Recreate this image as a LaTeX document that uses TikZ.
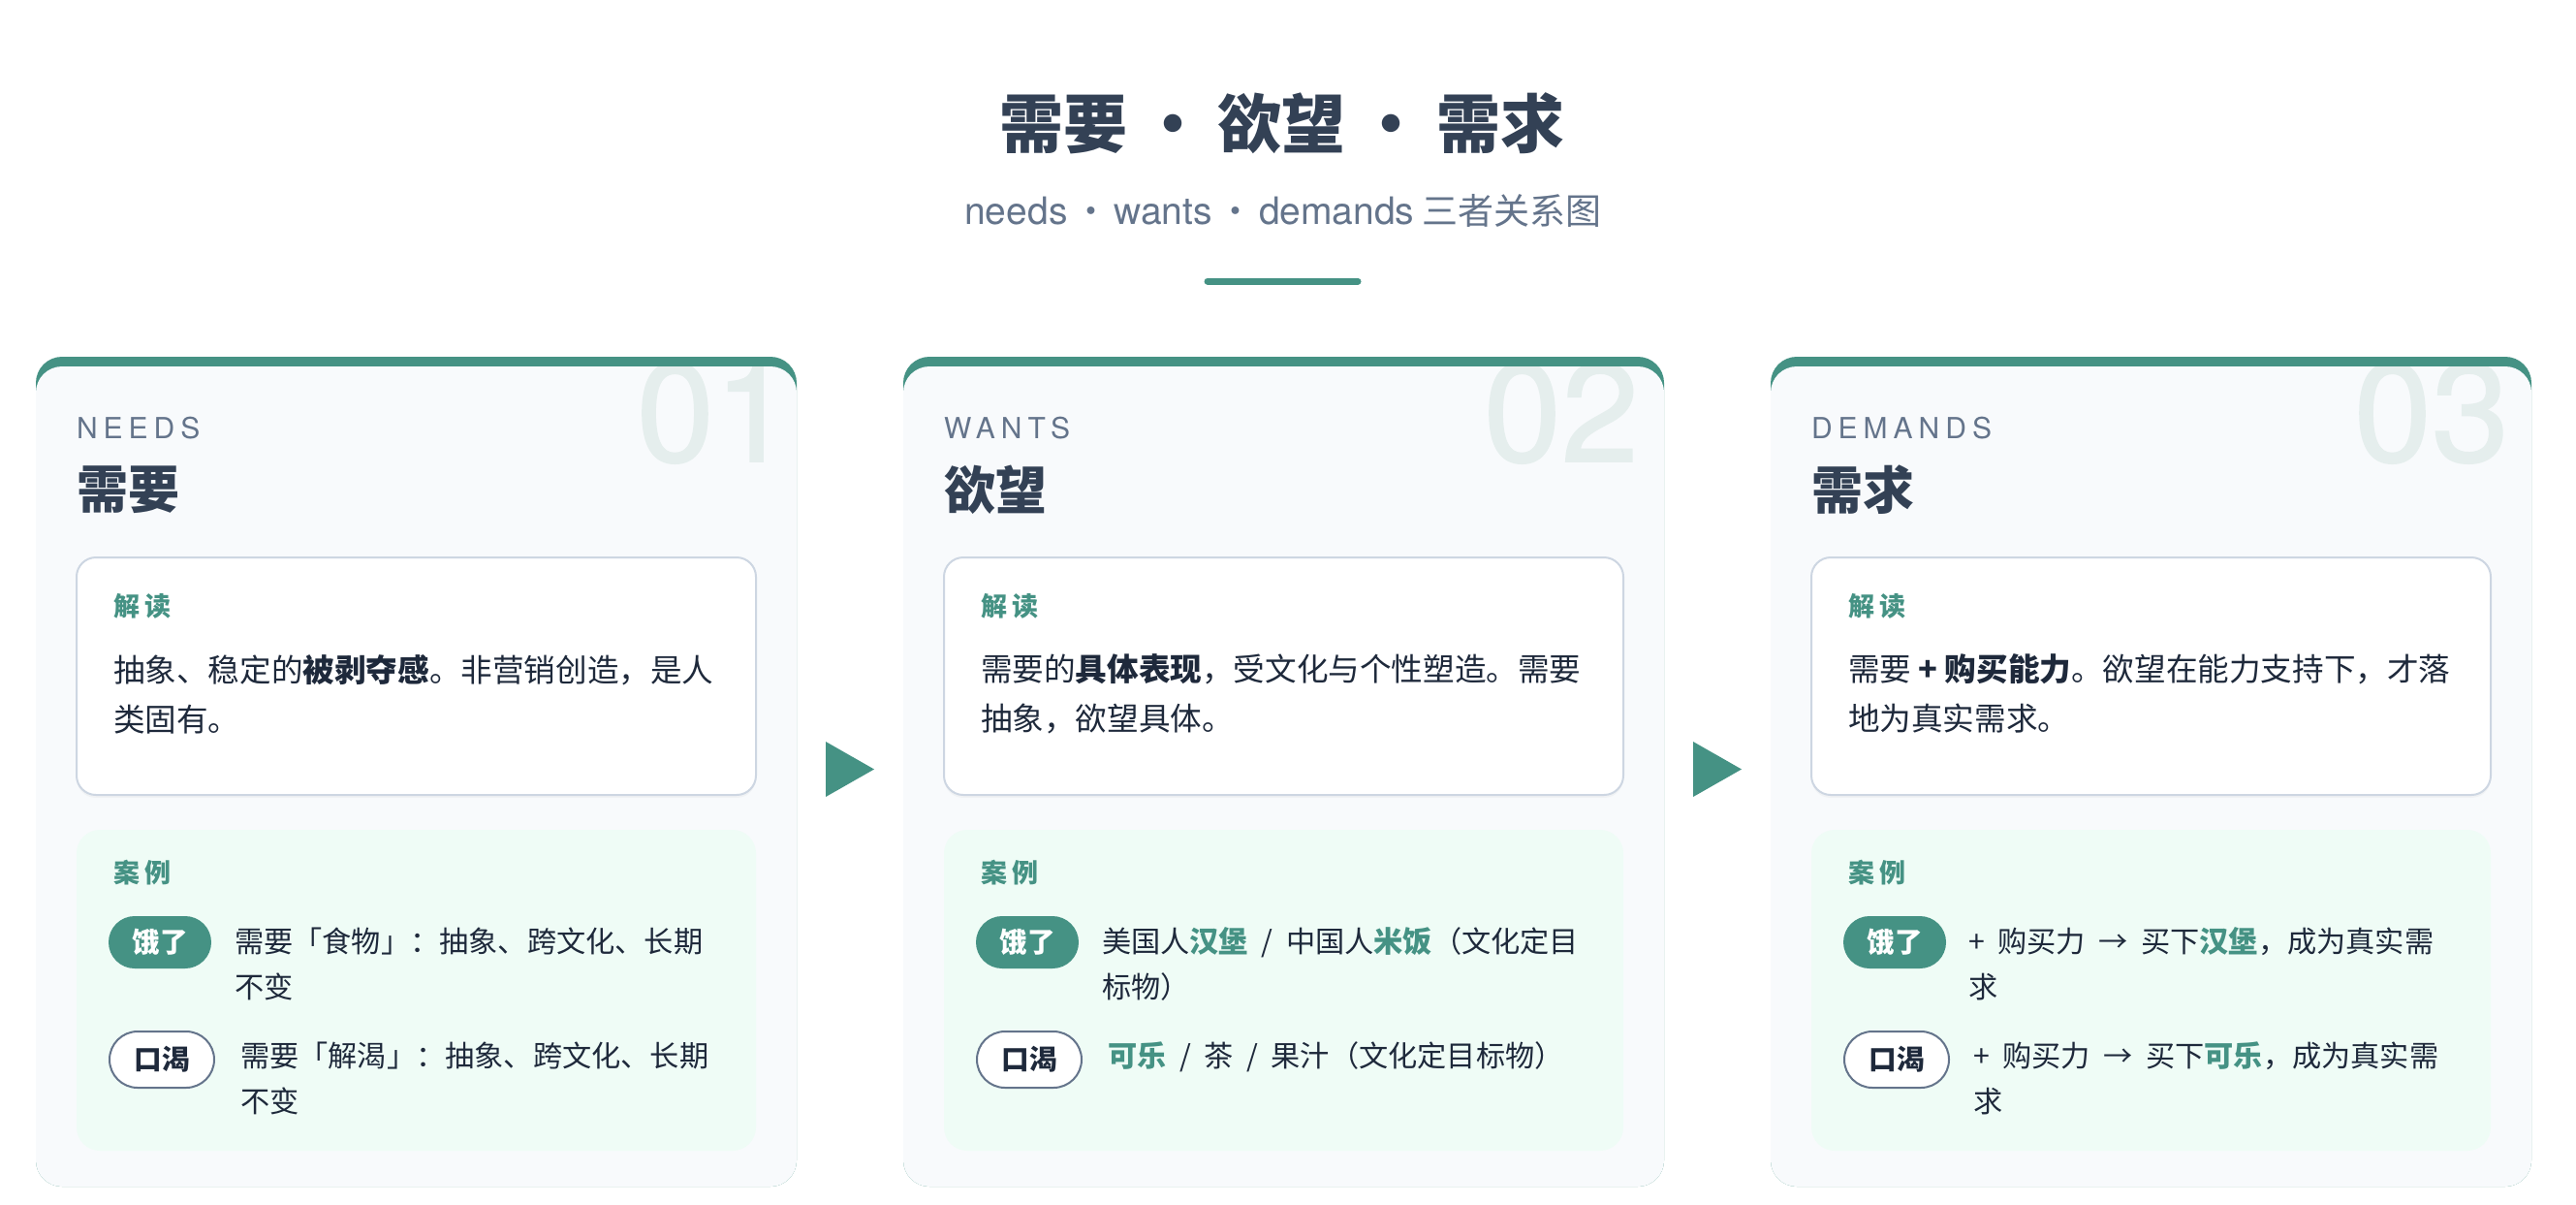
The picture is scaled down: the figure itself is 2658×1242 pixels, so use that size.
\documentclass[tikz,border=0pt]{standalone}
\usepackage{fontspec}
\setmainfont{Noto Sans CJK SC}
\newfontfamily\latinfont{TeX Gyre Heros}
\usepackage{xcolor}
\usepackage{tikz}
\usetikzlibrary{positioning, calc, shadows}
\definecolor{ndGreen}{RGB}{69, 146, 132}
\definecolor{ndDark}{RGB}{51, 65, 85}
\definecolor{ndText}{RGB}{30, 41, 59}
\definecolor{ndGray}{RGB}{100, 116, 139}
\definecolor{ndCard}{RGB}{248, 250, 252}
\definecolor{ndMint}{RGB}{239, 252, 246}
\definecolor{ndLine}{RGB}{205, 214, 226}
\definecolor{ndNum}{RGB}{229, 238, 237}
\newcommand{\hlword}[1]{{\bfseries\color{ndGreen}#1}}
\newcommand{\sepdot}[1]{\makebox[#1]{·}}
\newcommand{\gap}{\hspace{0.45em}}
\tikzset{
    base/.style={
        inner sep=0pt,
        outer sep=0pt
    },
    headline/.style={
        base,
        font=\bfseries\fontsize{33pt}{33pt}\selectfont,
        text=ndDark
    },
    subline/.style={
        base,
        font=\fontsize{18.5pt}{18.5pt}\selectfont,
        text=ndGray
    },
    tag/.style={
        base,
        anchor=base west,
        font=\latinfont\fontsize{15pt}{15pt}\selectfont\addfontfeature{LetterSpace=20},
        text=ndGray
    },
    cardtitle/.style={
        base,
        anchor=west,
        font=\bfseries\fontsize{26.5pt}{26.5pt}\selectfont,
        text=ndDark
    },
    bignum/.style={
        base,
        anchor=base east,
        font=\latinfont\fontsize{72pt}{72pt}\selectfont\addfontfeature{FakeBold=1.2},
        text=ndNum
    },
    boxhead/.style={
        base,
        anchor=west,
        font=\bfseries\fontsize{13.5pt}{13.5pt}\selectfont\addfontfeature{LetterSpace=20},
        text=ndGreen
    },
    bodytext/.style={
        base,
        anchor=north west,
        align=left,
        font=\fontsize{16.3pt}{25.5pt}\selectfont,
        text=ndText
    },
    casetext/.style={
        base,
        anchor=north west,
        align=left,
        font=\fontsize{15.1pt}{23.5pt}\selectfont,
        text=ndText
    },
    pillfull/.style={
        base,
        rectangle,
        rounded corners=13.5pt,
        minimum width=53pt,
        minimum height=27pt,
        fill=ndGreen,
        text=white,
        font=\bfseries\fontsize{14.3pt}{14.3pt}\selectfont
    },
    pillline/.style={
        base,
        rectangle,
        rounded corners=14.5pt,
        minimum width=54pt,
        minimum height=29pt,
        fill=white,
        draw=ndGray,
        line width=1pt,
        text=ndText,
        font=\bfseries\fontsize{14.3pt}{14.3pt}\selectfont
    },
    cardfill/.style={
        rounded corners=13.5pt
    },
    readbox/.style={
        draw=ndLine,
        line width=1pt,
        fill=white,
        rounded corners=10pt,
        drop shadow={opacity=0.06, shadow xshift=0pt, shadow yshift=-1.5pt}
    },
    casebox/.style={
        fill=ndMint,
        rounded corners=12pt
    }
}

\begin{document}
\begin{tikzpicture}[x=0.5pt, y=-0.5pt]
    \useasboundingbox (0,0) rectangle (2658,1242);
    \fill[white] (0,0) rectangle (2658,1242);

    % Heading
    \node[headline] (title) at (1323,127) {需要\sepdot{1.42em}欲望\sepdot{1.42em}需求};
    \node[subline] (subtitle) at (1324,217) {{\latinfont\fontsize{19.5pt}{19.5pt}\selectfont needs}\sepdot{1.3em}{\latinfont\fontsize{19.5pt}{19.5pt}\selectfont wants}\sepdot{1.3em}{\latinfont\fontsize{19.5pt}{19.5pt}\selectfont demands} 三者关系图};
    \draw[ndGreen, line width=3.5pt, line cap=round] (1246,290) -- (1401,290);

    % Arrows between cards
    \foreach \s in {0,895} {
        \fill[ndGreen] (852+\s,765) -- (902+\s,793.5) -- (852+\s,822) -- cycle;
    }

    % Needs card
    \begin{scope}[shift={(37,0)}]
        \fill[ndGreen, cardfill] (0,368) rectangle (785,1224);
        \fill[ndCard, cardfill] (0,378) rectangle (785,1224);
        \begin{scope}
            \clip[cardfill] (0,378) rectangle (785,1224);
            \node[bignum] (needsNum) at (780,476) {01};
        \end{scope}
        \node[tag] (needsTag) at (42,452) {NEEDS};
        \node[cardtitle] (needsTitle) at (42,505) {需要};
        \draw[readbox] (42,575) rectangle (743,820);
        \node[boxhead] (needsRead) at (80,625) {解读};
        \node[bodytext] (needsBody) at (80,675) {抽象、稳定的{\bfseries 被剥夺感}。非营销创造，是人\\类固有。};
        \fill[casebox] (42,856) rectangle (743,1187);
        \node[boxhead] (needsCase) at (80,900) {案例};
        \node[pillfull] (needsHungry) at (128,972) {饿了};
        \node[casetext] (needsHungryText) at (205,957) {需要「食物」：抽象、跨文化、长期\\不变};
        \node[pillline] (needsThirsty) at (130,1093) {口渴};
        \node[casetext] (needsThirstyText) at (211,1075) {需要「解渴」：抽象、跨文化、长期\\不变};
    \end{scope}

    % Wants card
    \begin{scope}[shift={(932,0)}]
        \fill[ndGreen, cardfill] (0,368) rectangle (785,1224);
        \fill[ndCard, cardfill] (0,378) rectangle (785,1224);
        \begin{scope}
            \clip[cardfill] (0,378) rectangle (785,1224);
            \node[bignum] (wantsNum) at (759,476) {02};
        \end{scope}
        \node[tag] (wantsTag) at (42,452) {WANTS};
        \node[cardtitle] (wantsTitle) at (42,505) {欲望};
        \draw[readbox] (42,575) rectangle (743,820);
        \node[boxhead] (wantsRead) at (80,625) {解读};
        \node[bodytext] (wantsBody) at (80,675) {需要的{\bfseries 具体表现}，受文化与个性塑造。需要\\抽象，欲望具体。};
        \fill[casebox] (42,856) rectangle (743,1187);
        \node[boxhead] (wantsCase) at (80,900) {案例};
        \node[pillfull] (wantsHungry) at (128,972) {饿了};
        \node[casetext] (wantsHungryText) at (205,957) {美国人\hlword{汉堡}\gap{}/\gap{}中国人\hlword{米饭}（文化定目\\标物）};
        \node[pillline] (wantsThirsty) at (130,1093) {口渴};
        \node[casetext] (wantsThirstyText) at (211,1075) {\hlword{可乐}\gap{}/\gap{}茶\gap{}/\gap{}果汁（文化定目标物）};
    \end{scope}

    % Demands card
    \begin{scope}[shift={(1827,0)}]
        \fill[ndGreen, cardfill] (0,368) rectangle (785,1224);
        \fill[ndCard, cardfill] (0,378) rectangle (785,1224);
        \begin{scope}
            \clip[cardfill] (0,378) rectangle (785,1224);
            \node[bignum] (demandsNum) at (762,476) {03};
        \end{scope}
        \node[tag] (demandsTag) at (42,452) {DEMANDS};
        \node[cardtitle] (demandsTitle) at (42,505) {需求};
        \draw[readbox] (42,575) rectangle (743,820);
        \node[boxhead] (demandsRead) at (80,625) {解读};
        \node[bodytext] (demandsBody) at (80,675) {需要 {\bfseries + 购买能力}。欲望在能力支持下，才落\\地为真实需求。};
        \fill[casebox] (42,856) rectangle (743,1187);
        \node[boxhead] (demandsCase) at (80,900) {案例};
        \node[pillfull] (demandsHungry) at (128,972) {饿了};
        \node[casetext] (demandsHungryText) at (204,957) {+\gap{}购买力\gap{}→\gap{}买下\hlword{汉堡}，成为真实需\\求};
        \node[pillline] (demandsThirsty) at (130,1093) {口渴};
        \node[casetext] (demandsThirstyText) at (209,1075) {+\gap{}购买力\gap{}→\gap{}买下\hlword{可乐}，成为真实需\\求};
    \end{scope}

\end{tikzpicture}
\end{document}
